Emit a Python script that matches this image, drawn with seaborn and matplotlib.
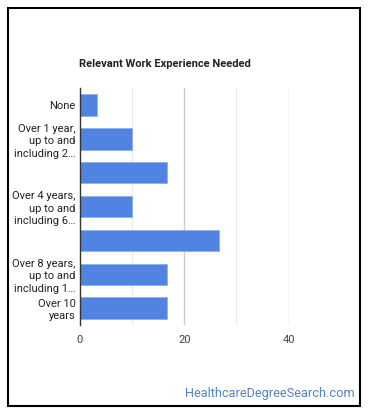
import matplotlib
matplotlib.use("Agg")
import matplotlib.pyplot as plt
import seaborn as sns
import pandas as pd

# Data (percent of workers)
categories = [
    "None",
    "Over 1 year, up to and including 2 years",
    "Over 2 years, up to and including 4 years",
    "Over 4 years, up to and including 6 years",
    "Over 6 years, up to and including 8 years",
    "Over 8 years, up to and including 10 years",
    "Over 10 years",
]
values = [3.3, 10.0, 16.7, 10.0, 26.7, 16.7, 16.7]
tick_labels = [
    "None",
    "Over 1 year,\nup to and\nincluding 2\u2026",
    "",
    "Over 4 years,\nup to and\nincluding 6\u2026",
    "",
    "Over 8 years,\nup to and\nincluding 1\u2026",
    "Over 10\nyears",
]
x_ticks = [0, 20, 40]

df = pd.DataFrame({"category": categories, "value": values})

sns.set_style("white")
plt.rcParams["font.family"] = ["Roboto", "DejaVu Sans"]

fig = plt.figure(figsize=(3.7, 4.17), dpi=100)
ax = fig.add_axes([0.2154, 0.2206, 0.565, 0.568])

# light gridlines, minor ones fainter
for v in [10, 30]:
    ax.axvline(v, color="#ebebeb", lw=1, zorder=0)
for v in [20, 40]:
    ax.axvline(v, color="#cccccc", lw=1, zorder=0)

sns.barplot(data=df, x="value", y="category", color="#5183e3", width=0.63,
            saturation=1, edgecolor="#8fb0ef", linewidth=0.6, ax=ax, zorder=2)

ax.set_xlim(0, 40)
ax.set_xticks(x_ticks)
ax.set_xticklabels([str(t) for t in x_ticks], fontsize=8, color="#444444")
ax.set_yticks(range(len(categories)))
ax.set_yticklabels(tick_labels, fontsize=8, color="#222222", linespacing=1.3)
ax.tick_params(axis="both", length=0, pad=3)
ax.tick_params(axis="x", pad=7)
ax.set_xlabel("")
ax.set_ylabel("")
for s in ["top", "right", "bottom"]:
    ax.spines[s].set_visible(False)
ax.spines["left"].set_color("#333333")
ax.spines["left"].set_linewidth(1)

fig.text(79 / 370, 1 - 64 / 417, "Relevant Work Experience Needed",
         fontsize=8, fontweight="bold", color="#222222", va="center", ha="left")
fig.text(355 / 370, 1 - 393 / 417, "HealthcareDegreeSearch.com",
         fontsize=9.2, color="#4f84c6", va="center", ha="right")

# outer frame
frame = plt.Rectangle((8 / 370, 1 - 406 / 417), 352 / 370, 398 / 417,
                      transform=fig.transFigure, fill=False,
                      edgecolor="black", linewidth=1.5)
fig.patches.append(frame)

fig.savefig("out.png", dpi=100)
